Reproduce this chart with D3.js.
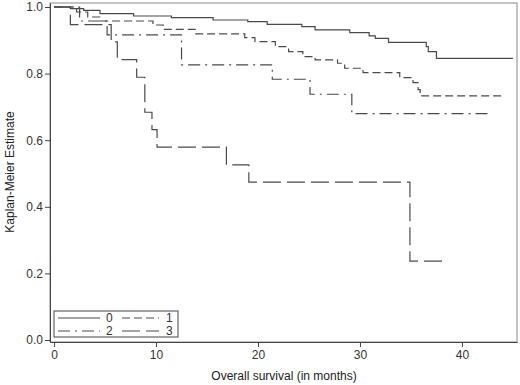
<!DOCTYPE html>
<html lang="en">
<head>
  <meta charset="UTF-8" />
  <title>Kaplan-Meier Estimate</title>
  <script src="https://d3js.org/d3.v7.min.js"></script>
  <style>
    body { margin: 0; background: #fff; font-family: "Liberation Sans", Arial, sans-serif; }
    .axis text { font-size: 12px; fill: #333; font-family: "Liberation Sans", Arial, sans-serif; }
    .axis path, .axis line { stroke: #444; }
  </style>
</head>
<body>
  <svg id="chart" width="520" height="385"></svg>
  <script>
  // step curves, one pair of arrays per group (time in months, survival)
  const g0Time = [0, 1.6, 2.9, 4.5, 7.8, 11.5, 15.6, 19.0, 20.9, 24.3, 25.6, 29.0, 30.9, 31.5, 32.8, 36.5, 36.7, 37.5, 45.0];
  const g0Surv = [1.0, 0.995, 0.99, 0.98, 0.973, 0.968, 0.961, 0.956, 0.948, 0.941, 0.931, 0.923, 0.913, 0.906, 0.894, 0.881, 0.866, 0.846, 0.846];

  const g1Time = [0, 2.2, 3.3, 4.5, 9.7, 10.7, 13.9, 18.7, 19.7, 21.7, 23.0, 24.4, 25.6, 27.8, 28.5, 30.3, 33.9, 35.2, 35.7, 35.9, 44.2];
  const g1Surv = [1.0, 0.985, 0.97, 0.958, 0.946, 0.933, 0.919, 0.908, 0.896, 0.881, 0.866, 0.851, 0.841, 0.831, 0.816, 0.803, 0.788, 0.773, 0.752, 0.733, 0.733];

  const g2Time = [0, 2.5, 5.2, 12.5, 21.4, 25.1, 29.2, 43.0];
  const g2Surv = [1.0, 0.958, 0.916, 0.826, 0.783, 0.738, 0.680, 0.680];

  const g3Time = [0, 1.6, 5.6, 6.2, 8.1, 8.9, 9.6, 10.1, 16.9, 19.1, 34.9, 38.6];
  const g3Surv = [1.0, 0.947, 0.895, 0.842, 0.789, 0.684, 0.632, 0.579, 0.526, 0.474, 0.237, 0.237];

  const groups = ["0", "1", "2", "3"];
  const xTicks = [0, 10, 20, 30, 40];
  const yTicks = [0, 0.2, 0.4, 0.6, 0.8, 1.0];

  const series = [
    { key: groups[0], t: g0Time, s: g0Surv, dash: null },
    { key: groups[1], t: g1Time, s: g1Surv, dash: "8,4" },
    { key: groups[2], t: g2Time, s: g2Surv, dash: "12,5,2,5" },
    { key: groups[3], t: g3Time, s: g3Surv, dash: "18,6" }
  ];

  const svg = d3.select("#chart");
  const pLeft = 50, pRight = 517, pTop = 3, pBottom = 342;

  const x = d3.scaleLinear().domain([-0.4, 45.4]).range([pLeft, pRight]);
  const y = d3.scaleLinear().domain([-0.006, 1.012]).range([pBottom, pTop]);

  // frame
  svg.append("rect")
    .attr("x", pLeft).attr("y", pTop)
    .attr("width", pRight - pLeft).attr("height", pBottom - pTop)
    .attr("fill", "none").attr("stroke", "#8a8a8a");

  svg.append("g").attr("class", "axis")
    .attr("transform", `translate(0,${pBottom})`)
    .call(d3.axisBottom(x).tickValues(xTicks).tickSize(5).tickPadding(3).tickSizeOuter(0));

  svg.append("g").attr("class", "axis")
    .attr("transform", `translate(${pLeft},0)`)
    .call(d3.axisLeft(y).tickValues(yTicks).tickFormat(d3.format(".1f")).tickSize(5).tickPadding(2).tickSizeOuter(0));

  const line = d3.line()
    .x(d => x(d[0]))
    .y(d => y(d[1]))
    .curve(d3.curveStepAfter);

  svg.selectAll(".km").data(series).join("path")
    .attr("class", "km")
    .attr("d", d => line(d.t.map((t, i) => [t, d.s[i]])))
    .attr("fill", "none")
    .attr("stroke", "#4a4a4a")
    .attr("stroke-width", 1.2)
    .attr("stroke-dasharray", d => d.dash);

  // axis titles
  svg.append("text")
    .attr("x", 284).attr("y", 380)
    .attr("text-anchor", "middle")
    .style("font-size", "12px").style("fill", "#222")
    .text("Overall survival (in months)");

  svg.append("text")
    .attr("transform", "translate(14,172) rotate(-90)")
    .attr("text-anchor", "middle")
    .style("font-size", "12px").style("fill", "#222")
    .text("Kaplan-Meier Estimate");

  // legend
  const leg = svg.append("g");
  leg.append("rect")
    .attr("x", 54).attr("y", 311).attr("width", 124).attr("height", 26)
    .attr("fill", "#fff").attr("stroke", "#444");
  const item = leg.selectAll(".li").data(series).join("g")
    .attr("class", "li")
    .attr("transform", (d, i) => `translate(${i % 2 ? 122 : 58},${i < 2 ? 318 : 331})`);
  item.append("line")
    .attr("x1", 0).attr("x2", (d, i) => i % 2 ? 37 : 42)
    .attr("stroke", "#4a4a4a").attr("stroke-width", 1.2)
    .attr("stroke-dasharray", d => d.dash);
  item.append("text")
    .attr("x", (d, i) => i % 2 ? 44 : 48).attr("y", 4)
    .style("font-size", "12px").style("fill", "#333")
    .text(d => d.key);
  </script>
</body>
</html>
